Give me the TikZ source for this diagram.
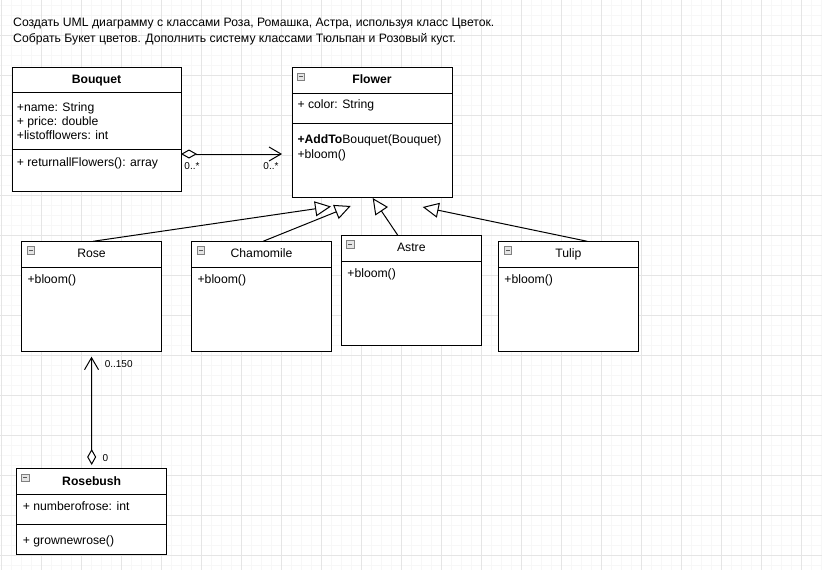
\documentclass[tikz,border=0pt]{standalone}
\usepackage{fontspec}
\setmainfont{Liberation Sans}
\usetikzlibrary{arrows.meta,calc}
\tikzset{
  gminor/.style={line width=1pt, draw=black!3},
  gmajor/.style={line width=1pt, draw=black!10},
  umlbox/.style={draw=black, line width=1pt, fill=white, anchor=north west, inner sep=0pt, outer sep=0pt},
  sepline/.style={line width=1pt, draw=black},
  txt/.style={anchor=west, inner sep=0pt, font=\fontsize{12.2}{14}\selectfont, text height=8.6pt, text depth=0pt},
  ttl/.style={txt, anchor=center},
  lbl/.style={anchor=center, inner sep=0pt, font=\fontsize{10}{12}\selectfont, text height=7.2pt, text depth=0pt},
  gen/.style={line width=1pt, -{Triangle[length=16pt,width=15pt,fill=white]}},
  agg/.style={line width=1pt, {Diamond[length=16pt,width=9pt,fill=white]}-{Straight Barb[length=12pt,width=14pt]}},
  minusicon/.pic={
    \draw[line width=0.8pt, draw=black!50, fill=black!10] (0,0) rectangle (7.5,7.5);
    \draw[line width=1.2pt, draw=black!65] (1.8,3.75) -- (5.7,3.75);
  }
}
\begin{document}
\begin{tikzpicture}[x=1pt,y=-1pt]
\useasboundingbox (0,0) rectangle (822,570);
\fill[white] (0,0) rectangle (822,570);
% grid
\foreach \i in {1,11,...,821} \draw[gminor] (\i,0) -- (\i,570);
\foreach \j in {5,15,...,565} \draw[gminor] (0,\j) -- (822,\j);
\foreach \i in {1,41,...,801} \draw[gmajor] (\i,0) -- (\i,570);
\foreach \j in {35,75,...,555} \draw[gmajor] (0,\j) -- (822,\j);

% task text
\node[txt] (task1) at (13,22.7) {Создать UML диаграмму с классами Роза, Ромашка, Астра, используя класс Цветок.};
\node[txt] (task2) at (13,37.7) {Собрать Букет цветов. Дополнить систему классами Тюльпан и Розовый куст.};

% Bouquet
\node[umlbox, minimum width=169pt, minimum height=124pt] (bouquet) at (12,67) {};
\draw[sepline] ($(bouquet.north west)+(0,25)$) -- ($(bouquet.north east)+(0,25)$);
\draw[sepline] ($(bouquet.north west)+(0,82)$) -- ($(bouquet.north east)+(0,82)$);
\node[ttl, font=\fontsize{12.2}{14}\selectfont\bfseries] (bouquetT) at ($(bouquet.north)+(0,12.3)$) {Bouquet};
\node[txt] (bq1) at ($(bouquet.north west)+(4.7,39.7)$) {+name: String};
\node[txt] (bq2) at ($(bouquet.north west)+(4.7,53.7)$) {+ price: double};
\node[txt] (bq3) at ($(bouquet.north west)+(4.7,67.7)$) {+listofflowers: int};
\node[txt] (bq4) at ($(bouquet.north west)+(4.7,95.5)$) {+ returnallFlowers(): array};

% Flower
\node[umlbox, minimum width=160pt, minimum height=130pt] (flower) at (292,67) {};
\draw[sepline] ($(flower.north west)+(0,26)$) -- ($(flower.north east)+(0,26)$);
\draw[sepline] ($(flower.north west)+(0,56)$) -- ($(flower.north east)+(0,56)$);
\pic at ($(flower.north west)+(5,6)$) {minusicon};
\node[ttl, font=\fontsize{12.2}{14}\selectfont\bfseries] (flowerT) at ($(flower.north)+(0,12.6)$) {Flower};
\node[txt] (fl1) at ($(flower.north west)+(5.3,37.3)$) {+ color: String};
\node[txt] (fl2) at ($(flower.north west)+(5.3,72)$) {{\bfseries +AddTo}Bouquet(Bouquet)};
\node[txt] (fl3) at ($(flower.north west)+(5.3,86.7)$) {+bloom()};

% Rose
\node[umlbox, minimum width=140pt, minimum height=110pt] (rose) at (21.5,241.3) {};
\draw[sepline] ($(rose.north west)+(0,26)$) -- ($(rose.north east)+(0,26)$);
\pic at ($(rose.north west)+(5.5,5.5)$) {minusicon};
\node[ttl] (roseT) at ($(rose.north)+(0,12.3)$) {Rose};
\node[txt] (ro1) at ($(rose.north west)+(5.9,38)$) {+bloom()};

% Chamomile
\node[umlbox, minimum width=140pt, minimum height=110pt] (chamomile) at (191.5,241.3) {};
\draw[sepline] ($(chamomile.north west)+(0,26)$) -- ($(chamomile.north east)+(0,26)$);
\pic at ($(chamomile.north west)+(5.5,5.5)$) {minusicon};
\node[ttl] (chamomileT) at ($(chamomile.north)+(0,12.3)$) {Chamomile};
\node[txt] (ch1) at ($(chamomile.north west)+(5.9,38)$) {+bloom()};

% Astre
\node[umlbox, minimum width=140pt, minimum height=110pt] (astre) at (341.3,235.3) {};
\draw[sepline] ($(astre.north west)+(0,25.7)$) -- ($(astre.north east)+(0,25.7)$);
\pic at ($(astre.north west)+(5.3,5.4)$) {minusicon};
\node[ttl] (astreT) at ($(astre.north)+(0,12.3)$) {Astre};
\node[txt] (as1) at ($(astre.north west)+(5.9,37.4)$) {+bloom()};

% Tulip
\node[umlbox, minimum width=140pt, minimum height=110pt] (tulip) at (498.3,241.3) {};
\draw[sepline] ($(tulip.north west)+(0,26)$) -- ($(tulip.north east)+(0,26)$);
\pic at ($(tulip.north west)+(5.8,5.5)$) {minusicon};
\node[ttl] (tulipT) at ($(tulip.north)+(0,12.3)$) {Tulip};
\node[txt] (tu1) at ($(tulip.north west)+(5.9,38)$) {+bloom()};

% Rosebush
\node[umlbox, minimum width=150pt, minimum height=86pt] (rosebush) at (16.7,468.3) {};
\draw[sepline] ($(rosebush.north west)+(0,26.4)$) -- ($(rosebush.north east)+(0,26.4)$);
\draw[sepline] ($(rosebush.north west)+(0,55.7)$) -- ($(rosebush.north east)+(0,55.7)$);
\pic at ($(rosebush.north west)+(4.8,5.7)$) {minusicon};
\node[ttl, font=\fontsize{12.2}{14}\selectfont\bfseries] (rosebushT) at ($(rosebush.north)+(0,12.4)$) {Rosebush};
\node[txt] (rb1) at ($(rosebush.north west)+(6,37.4)$) {+ numberofrose: int};
\node[txt] (rb2) at ($(rosebush.north west)+(6,71.7)$) {+ grownewrose()};

% generalization arrow tips
\coordinate (tipR) at ($(flower.south)+(-41,9.5)$);
\coordinate (tipC) at ($(flower.south)+(-21.3,9)$);
\coordinate (tipA) at ($(flower.south)+(0.7,1)$);
\coordinate (tipT) at ($(flower.south)+(50.7,10)$);
\draw[gen] ($(rose.north)+(1.5,0)$) -- (tipR);
\draw[gen] ($(chamomile.north)+(1.6,0)$) -- (tipC);
\draw[gen] ($(astre.north)+(-13.5,0)$) -- (tipA);
\draw[gen] ($(tulip.north)+(19,0)$) -- (tipT);

% aggregation Bouquet -> Flower
\coordinate (aggA) at ($(bouquet.south east)+(0,-37)$);
\draw[agg, shorten >=10pt] (aggA) -- (aggA -| flower.west);
\node[lbl] (m1) at (192,165.7) {0..*};
\node[lbl] (m2) at (271,165.7) {0..*};

% aggregation Rosebush -> Rose
\draw[agg, shorten <=3.3pt, shorten >=5.4pt] (rosebush.north) -- (rose.south);
\node[lbl] (m3) at (118.7,364) {0..150};
\node[lbl] (m4) at (105.5,457.7) {0};
\end{tikzpicture}
\end{document}
